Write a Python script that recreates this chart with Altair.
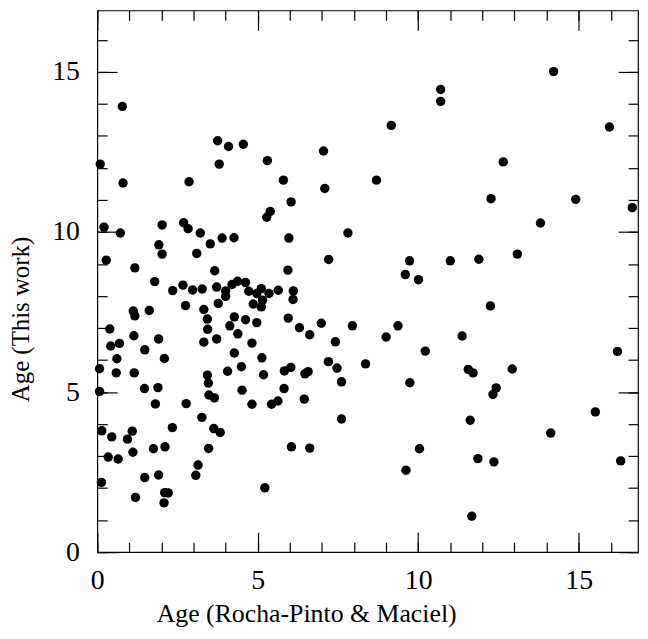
import altair as alt
import pandas as pd

# Age (Rocha-Pinto & Maciel)
age_rp = [
    0.78, 3.75, 4.09, 4.55, 7.05, 0.09, 3.80, 5.30, 0.80, 2.86,
    5.80, 7.09, 6.04, 5.39, 5.28, 0.21, 2.02, 2.69, 2.83, 3.21,
    0.72, 7.81, 3.89, 4.26, 5.97, 1.92, 3.52, 2.02, 3.10, 0.28,
    7.21, 1.17, 3.66, 5.94,
    1.79, 2.35, 2.67, 2.97, 3.27, 3.72, 4.00, 4.00, 4.20, 4.37,
    4.62, 4.72, 4.97, 5.11, 5.35, 5.64, 6.11, 6.10, 5.15, 4.86,
    5.11, 3.77, 2.75, 3.32, 1.12, 1.17, 1.62, 3.43, 4.27, 4.62,
    4.97, 5.95, 4.13, 3.44, 0.39, 6.30, 6.62, 6.98, 7.95, 4.38,
    1.14, 1.91, 3.72, 3.32, 4.82, 7.42, 0.42, 0.69, 1.48, 4.27,
    0.61, 2.09, 5.13, 7.20, 7.47, 8.36, 0.07, 0.59, 1.15, 4.06,
    4.49, 5.18, 5.83, 6.03, 6.47, 6.57, 3.43, 3.46, 7.61, 1.47,
    1.89, 0.07, 4.51, 5.82, 3.48, 3.65, 1.81, 2.77, 4.82, 5.43,
    5.63, 6.45, 7.61, 3.26, 0.14, 1.09, 2.34, 3.63, 3.83, 0.45,
    0.94, 1.11, 1.75, 2.11, 3.47, 6.05, 6.62, 0.34, 0.65, 3.14,
    3.07, 1.48, 1.91, 0.13, 1.19, 2.10, 2.21, 2.08, 5.22,
    14.22, 10.70, 10.70, 9.16, 15.96, 12.65, 8.70, 12.27, 14.91, 16.67,
    13.81, 13.09, 11.89, 11.00, 9.73, 9.60, 10.01,
    12.25, 9.37, 9.00, 11.37, 10.22, 16.21, 11.56, 11.71, 12.93, 9.74,
    12.43, 12.33, 15.52, 11.62, 14.13, 10.04, 11.86, 12.36, 16.31, 9.62,
    11.67,
]

# Age (This work)
age_this = [
    13.92, 12.85, 12.67, 12.74, 12.53, 12.12, 12.12, 12.23, 11.53, 11.57,
    11.62, 11.36, 10.94, 10.64, 10.46, 10.15, 10.22, 10.29, 10.10, 9.97,
    9.97, 9.97, 9.81, 9.82, 9.81, 9.60, 9.63, 9.31, 9.33, 9.12,
    9.14, 8.88, 8.79, 8.81,
    8.45, 8.17, 8.34, 8.19, 8.22, 8.28, 8.16, 7.99, 8.36, 8.46,
    8.42, 8.15, 8.08, 8.23, 8.08, 8.18, 8.16, 7.89, 7.87, 7.75,
    7.66, 7.77, 7.70, 7.58, 7.53, 7.38, 7.55, 7.28, 7.35, 7.26,
    7.17, 7.31, 7.07, 6.96, 6.97, 7.01, 6.79, 7.15, 7.07, 6.82,
    6.76, 6.66, 6.66, 6.56, 6.53, 6.57, 6.44, 6.52, 6.32, 6.22,
    6.04, 6.05, 6.07, 5.95, 5.75, 5.88, 5.73, 5.60, 5.60, 5.65,
    5.79, 5.54, 5.66, 5.77, 5.57, 5.64, 5.53, 5.28, 5.32, 5.11,
    5.14, 5.02, 5.06, 5.11, 4.91, 4.82, 4.63, 4.64, 4.62, 4.62,
    4.72, 4.78, 4.16, 4.21, 3.79, 3.78, 3.89, 3.86, 3.74, 3.60,
    3.53, 3.12, 3.23, 3.29, 3.24, 3.29, 3.25, 2.97, 2.91, 2.72,
    2.40, 2.33, 2.41, 2.18, 1.71, 1.86, 1.85, 1.54, 2.01,
    15.01, 14.45, 14.08, 13.33, 13.28, 12.19, 11.62, 11.04, 11.02, 10.76,
    10.28, 9.31, 9.15, 9.10, 9.10, 8.67, 8.51,
    7.69, 7.07, 6.72, 6.75, 6.28, 6.27, 5.71, 5.60, 5.72, 5.29,
    5.13, 4.93, 4.38, 4.12, 3.72, 3.23, 2.92, 2.82, 2.85, 2.56,
    1.12,
]

x_major = [0, 5, 10, 15]
x_minor = list(range(0, 17))
y_major = [0, 5, 10, 15]
y_minor = list(range(0, 17))

x_title = "Age (Rocha-Pinto & Maciel)"
y_title = "Age (This work)"

df = pd.DataFrame({"rp": age_rp, "tw": age_this})

FONT = "Liberation Serif"
W, H = 545, 546
xs = alt.Scale(domain=[0, 16.85], nice=False, zero=False)
ys = alt.Scale(domain=[0, 16.92], nice=False, zero=False)


def tick_axis(orient, values, size):
    return alt.Axis(orient=orient, values=values, tickSize=size, offset=-size,
                    labels=False, domain=False, grid=False, title="",
                    ticks=True, tickColor="black", tickWidth=1.2)


def tick_layer(xo, yo, xv, yv, size):
    return alt.Chart(df).mark_circle(opacity=0).encode(
        x=alt.X("rp:Q", scale=xs, axis=tick_axis(xo, xv, size)),
        y=alt.Y("tw:Q", scale=ys, axis=tick_axis(yo, yv, size)),
    )


points = alt.Chart(df).mark_circle(size=90, color="black", opacity=1).encode(
    x=alt.X("rp:Q", scale=xs, title=x_title,
            axis=alt.Axis(orient="bottom", values=x_major, ticks=False, tickSize=0,
                          domain=False, grid=False, format="d",
                          labelFont=FONT, labelFontSize=28, labelColor="black",
                          labelPadding=37, labelBaseline="alphabetic",
                          labelFlush=False, labelOverlap=False,
                          titleFont=FONT, titleFontSize=26, titleFontWeight="normal",
                          titleColor="black", titleX=210.5, titleY=70,
                          titleBaseline="alphabetic", titleAlign="center")),
    y=alt.Y("tw:Q", scale=ys, title=y_title,
            axis=alt.Axis(orient="left", values=y_major, ticks=False, tickSize=0,
                          domain=False, grid=False, format="d",
                          labelFont=FONT, labelFontSize=28, labelColor="black",
                          labelPadding=18, labelAlign="right", labelBaseline="middle",
                          labelFlush=False, labelOverlap=False,
                          titleFont=FONT, titleFontSize=25, titleFontWeight="normal",
                          titleColor="black", titleAngle=270, titleX=-69.5, titleY=311,
                          titleBaseline="alphabetic", titleAlign="center")),
)

chart = alt.layer(
    points,
    tick_layer("bottom", "left", x_major, y_major, 20),
    tick_layer("bottom", "left", x_minor, y_minor, 10),
    tick_layer("top", "right", x_major, y_major, 20),
    tick_layer("top", "right", x_minor, y_minor, 10),
).resolve_axis(
    x="independent", y="independent"
).properties(
    width=W, height=H,
    autosize=alt.AutoSizeParams(type="none"),
    padding={"left": 90, "top": 0, "right": 2, "bottom": 76},
    background="white",
).configure_view(stroke="black", strokeWidth=1.2)

chart.save("out.html", embed_options={"renderer": "svg", "actions": False})
